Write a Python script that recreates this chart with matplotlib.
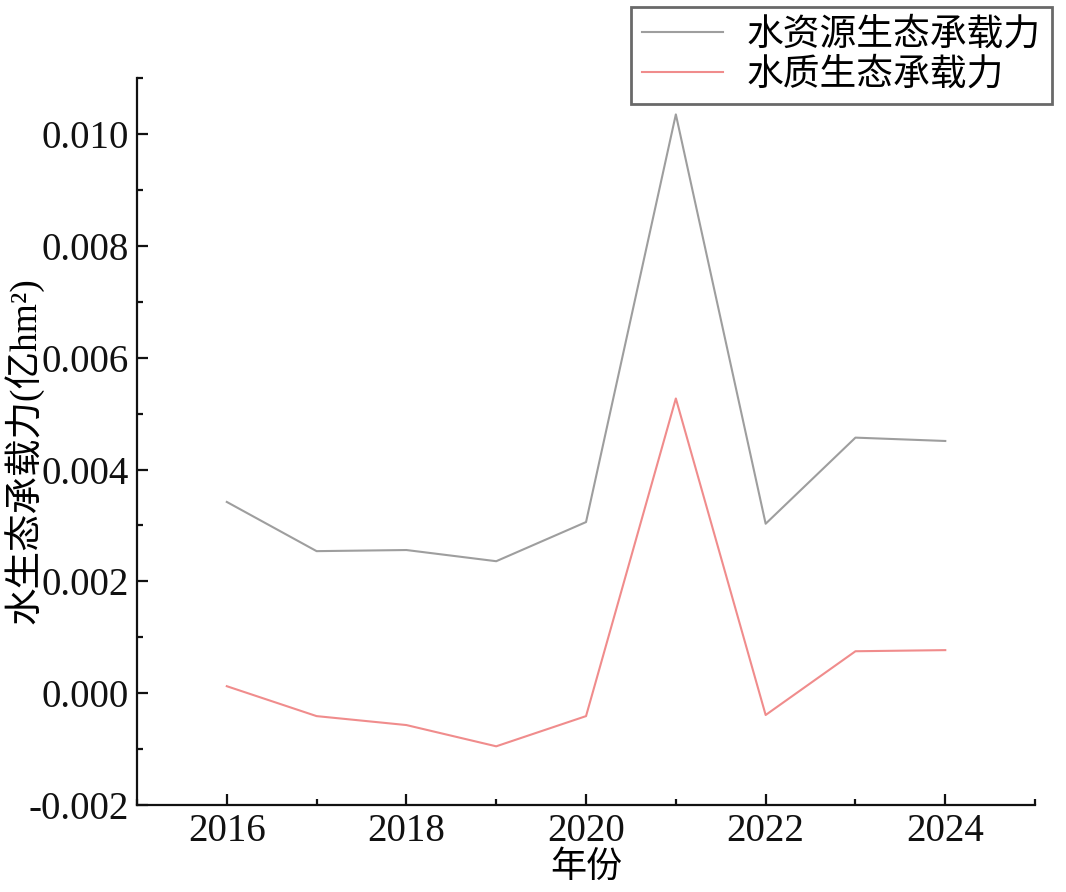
import matplotlib
matplotlib.use("Agg")
import matplotlib.pyplot as plt
from matplotlib.ticker import MultipleLocator

plt.rcParams['font.family'] = ['Liberation Serif', 'Noto Sans CJK SC']

years = [2016, 2017, 2018, 2019, 2020, 2021, 2022, 2023, 2024]
water_resource = [0.00342, 0.00254, 0.00256, 0.00236, 0.00306, 0.01035, 0.00303, 0.00457, 0.00451]
water_quality = [0.000125, -0.00041, -0.00057, -0.00095, -0.00041, 0.00527, -0.00039, 0.00075, 0.00077]
series_names = ['水资源生态承载力', '水质生态承载力']
xticks = [2016, 2018, 2020, 2022, 2024]
yticks = [-0.002, 0.0, 0.002, 0.004, 0.006, 0.008, 0.010]
ytick_labels = ['-0.002', '0.000', '0.002', '0.004', '0.006', '0.008', '0.010']
xlabel = '年份'
ylabel = '水生态承载力(亿hm²)'

fig = plt.figure(figsize=(10.66, 8.92), dpi=100)
ax = fig.add_axes([0.1285, 0.0975, 0.8425, 0.815])

ax.plot(years, water_resource, color='#9e9e9e', lw=1.5, label=series_names[0])
ax.plot(years, water_quality, color='#f08c8c', lw=1.5, label=series_names[1])

ax.set_xlim(2015, 2025)
ax.set_ylim(-0.002, 0.011)
ax.set_xticks(xticks)
ax.xaxis.set_minor_locator(MultipleLocator(1))
ax.set_yticks(yticks)
ax.set_yticklabels(ytick_labels)
ax.yaxis.set_minor_locator(MultipleLocator(0.001))

for s in ['top', 'right']:
    ax.spines[s].set_visible(False)
for s in ['left', 'bottom']:
    ax.spines[s].set_linewidth(1.6)
    ax.spines[s].set_color('#111111')

ax.tick_params(which='major', direction='in', length=8, width=1.6, labelsize=28, pad=6, colors='#111111')
ax.tick_params(which='minor', direction='in', length=4, width=1.6, colors='#111111')

ax.set_xlabel(xlabel, fontsize=26, labelpad=1)
ax.set_ylabel(ylabel, fontsize=27)
ax.yaxis.set_label_coords(-0.104, 0.488)

leg = fig.legend(loc='upper right', bbox_to_anchor=(1052/1066, 1 - 7/892), borderaxespad=0,
                 fontsize=26.5, frameon=True, fancybox=False, handlelength=2.2,
                 handletextpad=0.65, borderpad=0.3, labelspacing=0.15)
leg.get_frame().set_edgecolor('#444444')
leg.get_frame().set_linewidth(2)

fig.savefig('out.png', dpi=100)
